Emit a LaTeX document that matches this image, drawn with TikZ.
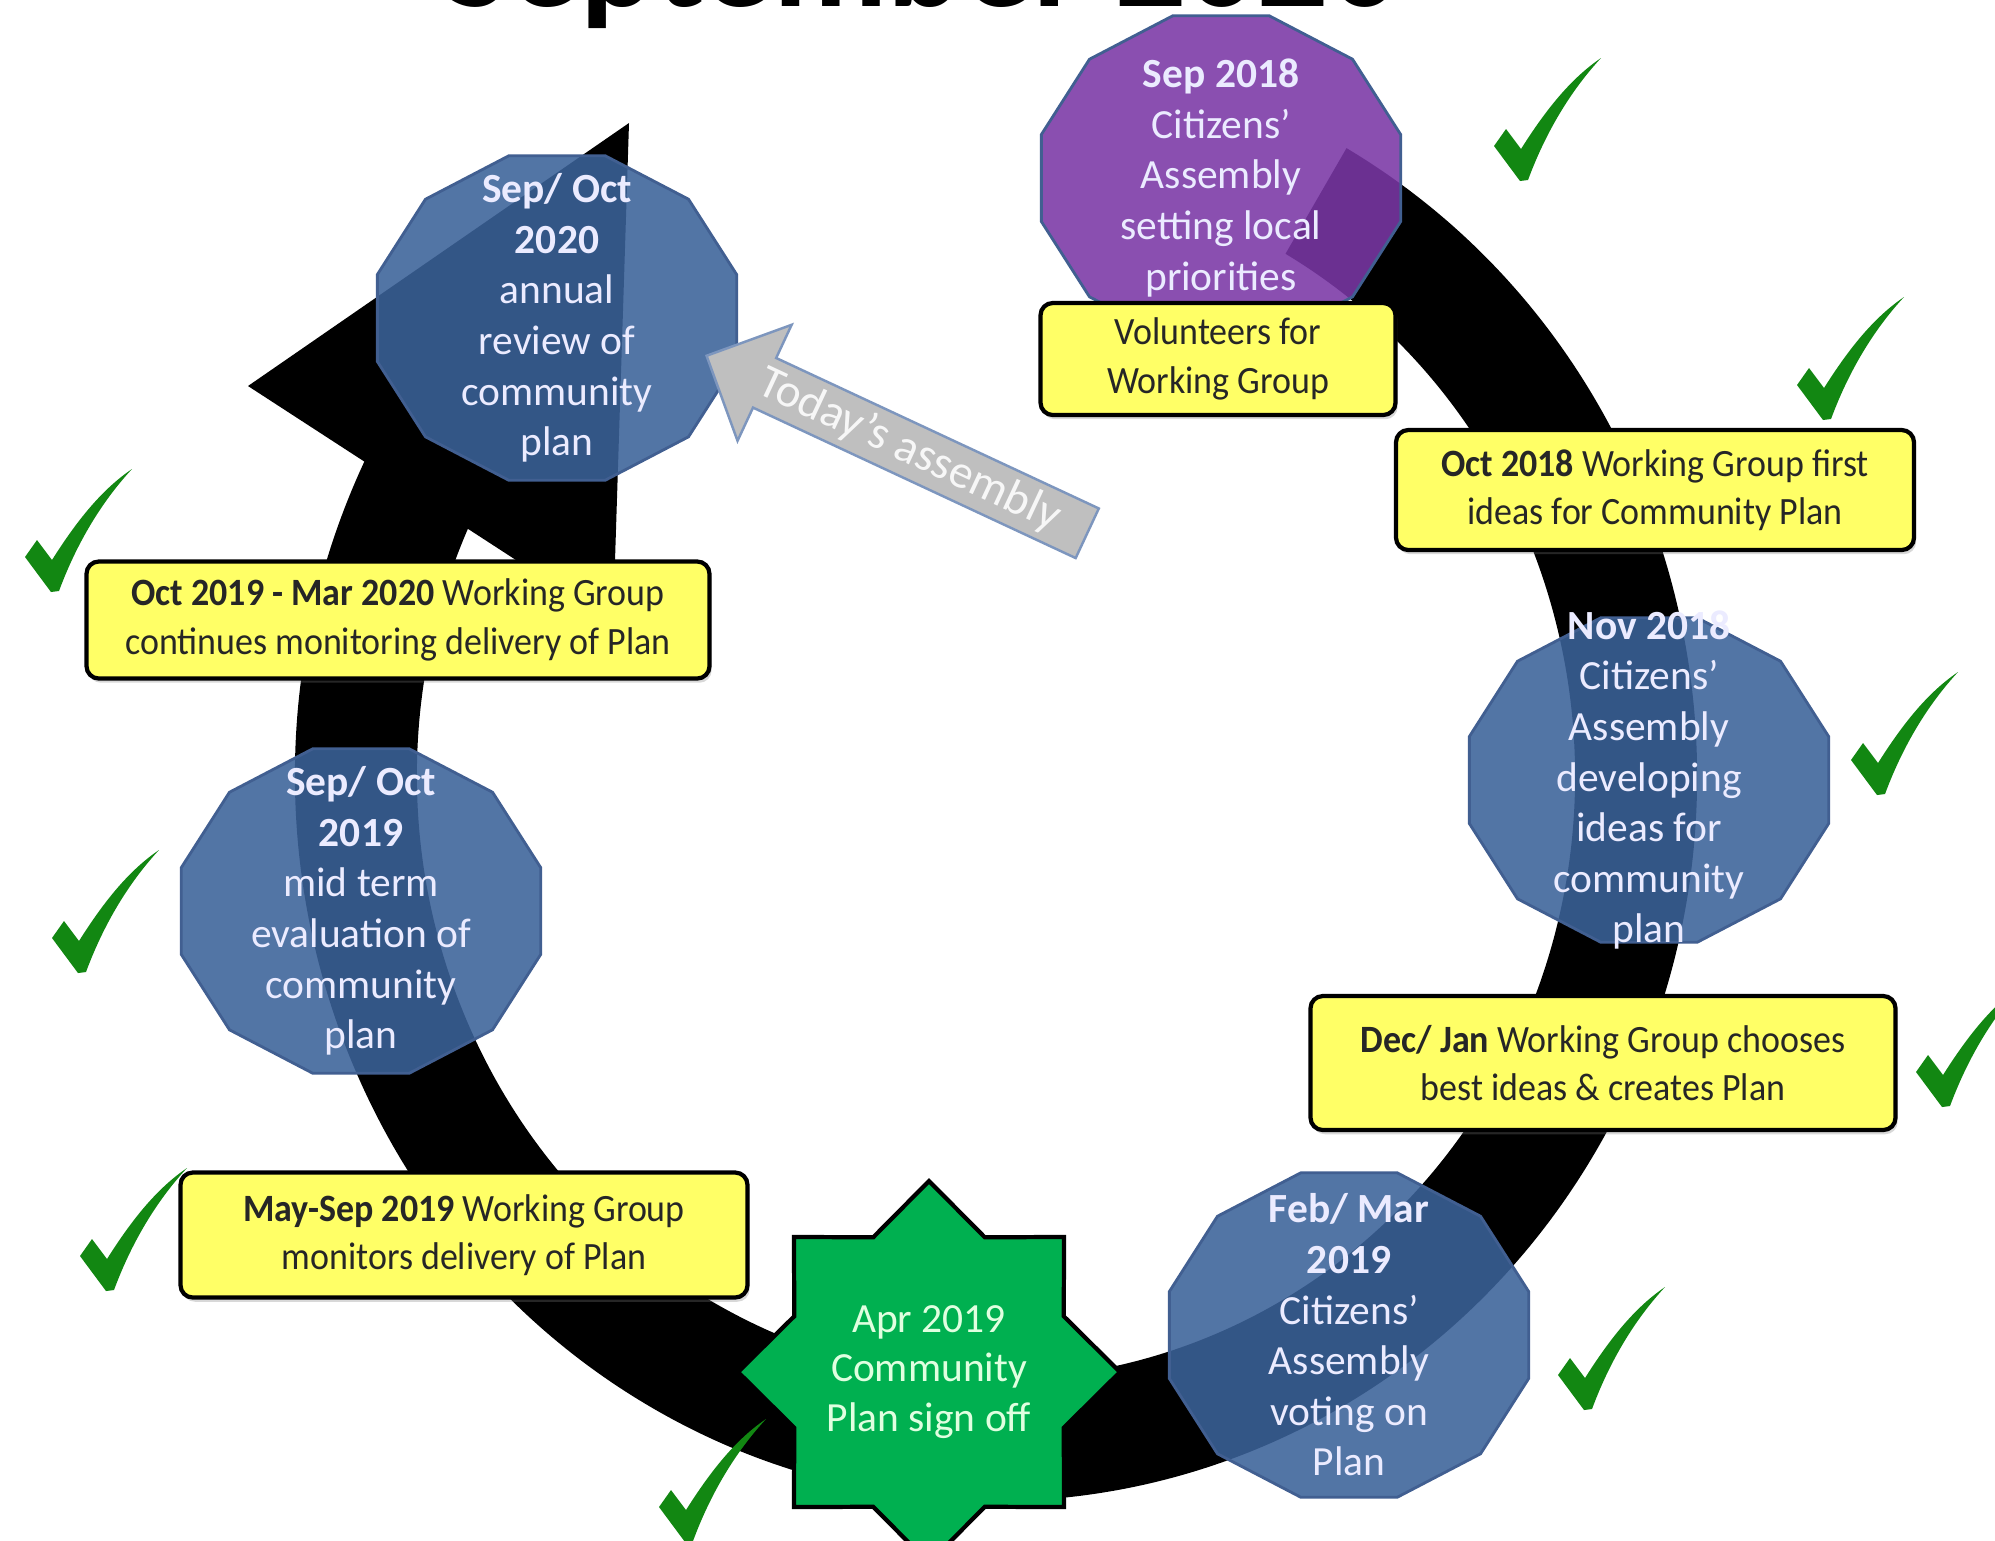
\documentclass[tikz,border=0pt]{standalone}
\usepackage{fontspec}
\setmainfont{Carlito}
\newfontfamily\notefamily{Carlito}[FakeStretch=0.93]
\usepackage{xcolor}
\definecolor{stageblue}{RGB}{59,98,153}
\definecolor{stagepurple}{RGB}{122,55,166}
\definecolor{stageedge}{RGB}{65,95,145}
\definecolor{notegold}{RGB}{255,255,102}
\definecolor{signgreen}{RGB}{0,176,80}
\definecolor{tickgreen}{RGB}{18,135,18}
\definecolor{pointergray}{RGB}{191,191,191}
\definecolor{pointeredge}{RGB}{125,150,190}
\usepackage{tikz}
\usetikzlibrary{
    calc,
    positioning,
    shapes.geometric,
    shapes.arrows,
    shadows
}
\tikzset{
    stagetext/.style = {align=center, text=white!92!blue, inner sep=0pt,
                        font=\fontsize{11.8}{14.4}\selectfont},
    notebox/.style   = {rectangle, draw=black, fill=notegold, line width=1.2pt,
                        rounded corners=3.5pt, align=center, text=black!85,
                        font=\notefamily\fontsize{11}{13.8}\selectfont,
                        drop shadow={shadow xshift=0.6pt, shadow yshift=-1.2pt,
                                     opacity=0.3}},
    checkmark/.pic   = {\fill[tickgreen] (0,0) -- (-0.26,0.35) -- (-0.14,0.52)
                        -- (0.01,0.32) .. controls (0.25,0.70) and (0.50,1.02) .. (0.81,1.23)
                        .. controls (0.55,0.95) and (0.28,0.55) .. (0.08,0.01) -- cycle;}
}

% twelve-sided stage badge, slightly wider than tall
\newcommand{\stageshape}[2]{%
  \filldraw[fill=#2, fill opacity=0.88, draw=stageedge, line width=0.8pt, shift={(#1)}]
    plot[samples=13, domain=15:375, variable=\ang] ({1.86*cos(\ang)}, {1.68*sin(\ang)}) -- cycle;}

\begin{document}
\begin{tikzpicture}[
    signoff/.style = {star, star points=8, star point ratio=1.31, draw=black,
                      line width=1.2pt, fill=signgreen, minimum size=3.82cm,
                      inner sep=0pt, align=center, text=green!12!white,
                      font=\fontsize{11.8}{14.2}\selectfont},
    pointer/.style = {single arrow, shape border rotate=180, draw=pointeredge,
                      line width=0.7pt, fill=pointergray, minimum height=4.2cm,
                      minimum width=1.28cm, single arrow head extend=0.36cm,
                      inner xsep=1pt, inner ysep=1.5pt, text=white!94!gray,
                      font=\fontsize{13.4}{16}\selectfont}
]

\fill[white] (0,0) rectangle (19.95,-15.40);
\useasboundingbox (0,0) rectangle (19.95,-15.40);

% --- Title (cut by the top edge) ---
\node[font=\bfseries\fontsize{40}{48}\selectfont, anchor=base] (title) at (9.22,-0.06) {September 2020};

% --- Stage centres ---
\coordinate (c2018)  at (12.21,-1.78);
\coordinate (c2020)  at (5.57,-3.18);
\coordinate (cnov)   at (16.49,-7.80);
\coordinate (c2019)  at (3.61,-9.11);
\coordinate (cfeb)   at (13.49,-13.35);

% --- Black cycle arrow ---
\coordinate (ringc)   at (9.96,-7.76);
\coordinate (headA)   at (2.48,-3.86);
\coordinate (headtip) at (6.29,-1.23);
\coordinate (headB)   at (6.13,-6.23);
\fill[black, shift={(ringc)}]
   (60:7.01 and 7.25) arc[start angle=60, end angle=-207, x radius=7.01, y radius=7.25]
   -- (-207:5.79 and 6.03) arc[start angle=-207, end angle=60, x radius=5.79, y radius=6.03]
   -- cycle;
\fill[black] (headA) -- (headtip) -- (headB) -- cycle;

% --- Stage badges ---
\stageshape{c2018}{stagepurple}
\stageshape{c2020}{stageblue}
\stageshape{cnov}{stageblue}
\stageshape{c2019}{stageblue}
\stageshape{cfeb}{stageblue}

\node[stagetext] (sep2018) at (c2018) {\textbf{Sep 2018}\\Citizens’\\Assembly\\setting local\\priorities};
\node[stagetext] (sep2020) at (c2020) {\textbf{Sep/ Oct}\\\textbf{2020}\\annual\\review of\\community\\plan};
\node[stagetext] (nov2018) at (cnov)  {\textbf{Nov 2018}\\Citizens’\\Assembly\\developing\\ideas for\\community\\plan};
\node[stagetext] (sep2019) at (c2019) {\textbf{Sep/ Oct}\\\textbf{2019}\\mid term\\evaluation of\\community\\plan};
\node[stagetext] (feb2019) at (cfeb)  {\textbf{Feb/ Mar}\\\textbf{2019}\\Citizens’\\Assembly\\voting on\\Plan};

% --- Working Group notes ---
\node[notebox, minimum width=3.55cm, minimum height=1.12cm] (volunteers) at (12.18,-3.59)
   {Volunteers for\\Working Group};
\node[notebox, minimum width=5.18cm, minimum height=1.20cm] (oct2018) at (16.55,-4.90)
   {\textbf{Oct 2018} Working Group first\\ideas for Community Plan};
\node[notebox, minimum width=5.85cm, minimum height=1.34cm] (decjan) at (16.03,-10.63)
   {\textbf{Dec/ Jan} Working Group chooses\\best ideas \& creates Plan};
\node[notebox, minimum width=5.67cm, minimum height=1.25cm] (maysep) at (4.64,-12.35)
   {\textbf{May-Sep 2019} Working Group\\monitors delivery of Plan};
\node[notebox, minimum width=6.23cm, minimum height=1.17cm] (octmar) at (3.98,-6.20)
   {\textbf{Oct 2019 - Mar 2020} Working Group\\continues monitoring delivery of Plan};

% --- Sign off star ---
\node[signoff] (apr2019) at (9.29,-13.72) {Apr 2019\\Community\\Plan sign off};

% --- Pointer to today's stage ---
\node[pointer, rotate=-25, anchor=tip] (today) at ($(sep2020.center)+(1.48,-0.37)$) {Today’s assembly};

% --- Done ticks ---
\foreach \x/\y in {15.20/-1.81, 18.23/-4.20, 18.77/-7.95, 19.42/-11.07, 15.84/-14.10,
                   6.85/-15.42, 1.06/-12.91, 0.78/-9.73, 0.51/-5.92}
   \pic at (\x,\y) {checkmark};

\end{tikzpicture}
\end{document}
